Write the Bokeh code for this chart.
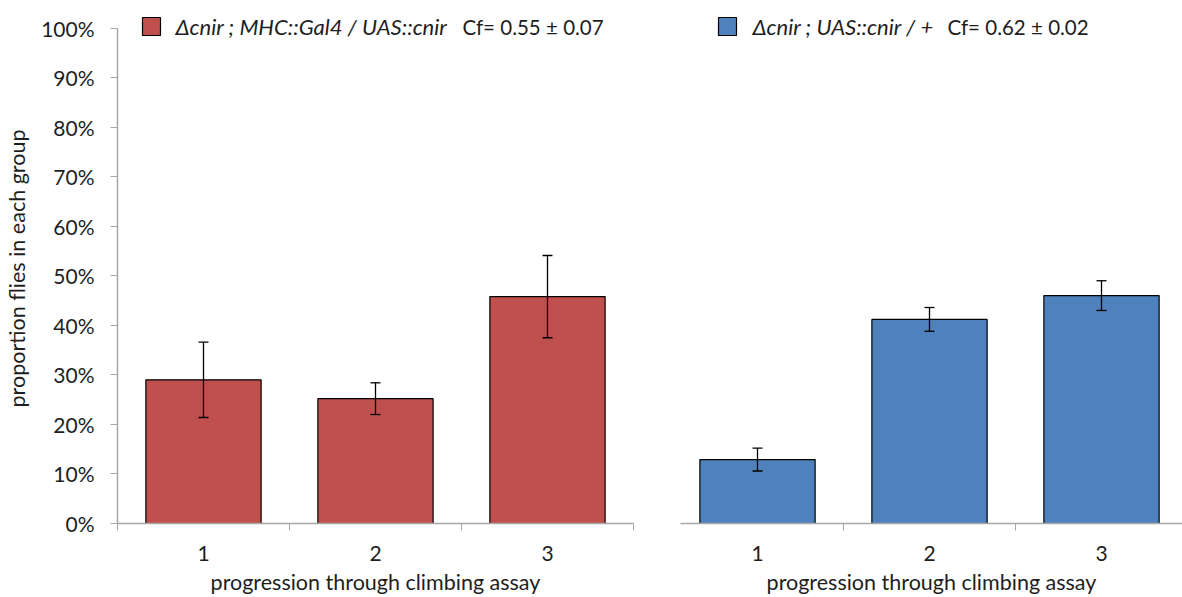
from bokeh.plotting import figure
from bokeh.layouts import row
from bokeh.models import (ColumnDataSource, FixedTicker, PrintfTickFormatter,
                          Whisker, TeeHead, Range1d)
from bokeh.core.properties import value
from bokeh.embed import file_html
from bokeh.resources import INLINE

# --- data -------------------------------------------------------------
stages = [1, 2, 3]
stage_labels = ["1", "2", "3"]

rescue_mean = [29.0, 25.2, 45.8]   # % flies, MHC::Gal4 / UAS::cnir
rescue_err = [7.6, 3.2, 8.3]

control_mean = [12.9, 41.2, 46.0]  # % flies, UAS::cnir / +
control_err = [2.3, 2.4, 3.0]

rescue_name = "Δcnir ; MHC::Gal4 / UAS::cnir"
rescue_cf = "Cf= 0.55 ± 0.07"
control_name = "Δcnir ; UAS::cnir / +"
control_cf = "Cf= 0.62 ± 0.02"

y_ticks = list(range(0, 101, 10))
x_label = "progression through climbing assay"
y_label = "proportion flies in each group"

# --- style ------------------------------------------------------------
FONT = "Lato"
AXIS_GREY = "#a6a6a6"
TEXT = "#1e1e1e"
RED = "#C0504D"
BLUE = "#4F81BD"

H = 597
TOP = 13
BOTTOM = 74
PX_PER_PCT = 4.954
Y_END = (H - BOTTOM - TOP) / PX_PER_PCT
PX_PER_CAT = 172.0


def make_panel(mean, err, color, name, cf, width, left, right, x_start,
               show_y, sq_px, name_px, cf_px):
    frame_left = left
    frame_w = width - left - right
    x_end = x_start + frame_w / PX_PER_CAT
    p = figure(width=width, height=H, output_backend="svg",
               toolbar_location=None, x_range=Range1d(x_start, x_end),
               y_range=Range1d(0, Y_END), min_border_left=left,
               min_border_right=right, min_border_top=TOP,
               min_border_bottom=BOTTOM)
    p.outline_line_color = None
    p.xgrid.visible = False
    p.ygrid.visible = False
    p.background_fill_color = "white"
    p.border_fill_color = "white"

    def px_to_x(px):
        return x_start + (px - frame_left) / PX_PER_CAT

    def py_to_y(py):
        return (H - BOTTOM - py) / PX_PER_PCT

    src = ColumnDataSource(dict(x=stages, top=mean,
                                upper=[m + e for m, e in zip(mean, err)],
                                lower=[m - e for m, e in zip(mean, err)]))
    p.vbar(x="x", top="top", width=0.67, bottom=0, source=src,
           fill_color=color, line_color="black", line_width=1.2)
    w = Whisker(base="x", upper="upper", lower="lower", source=src,
                line_color="black", line_width=1.3, level="overlay",
                upper_head=TeeHead(size=10, line_color="black", line_width=1.3),
                lower_head=TeeHead(size=10, line_color="black", line_width=1.3))
    p.add_layout(w)

    # x axis: labels at category centres, tick marks at boundaries
    xa = p.xaxis[0]
    xa.ticker = FixedTicker(ticks=stages, minor_ticks=[0.5, 1.5, 2.5, 3.5])
    xa.major_label_overrides = {s: l for s, l in zip(stages, stage_labels)}
    xa.major_tick_out = 0
    xa.major_tick_in = 0
    xa.minor_tick_out = 7
    xa.minor_tick_in = 0
    xa.minor_tick_line_color = AXIS_GREY
    xa.axis_line_color = AXIS_GREY
    xa.axis_line_width = 1.5
    xa.major_label_text_font = FONT
    xa.major_label_text_font_size = "21px"
    xa.major_label_text_color = TEXT
    xa.major_label_standoff = 15
    xa.axis_label = x_label
    xa.axis_label_text_font = FONT
    xa.axis_label_text_font_size = "21.5px"
    xa.axis_label_text_font_style = "normal"
    xa.axis_label_text_color = TEXT
    xa.axis_label_standoff = 5

    ya = p.yaxis[0]
    if show_y:
        ya.ticker = FixedTicker(ticks=y_ticks, minor_ticks=[])
        ya.formatter = PrintfTickFormatter(format="%d%%")
        ya.bounds = (0, 100)
        ya.major_tick_out = 7
        ya.major_tick_in = 0
        ya.major_tick_line_color = AXIS_GREY
        ya.axis_line_color = AXIS_GREY
        ya.axis_line_width = 1.5
        ya.major_label_text_font = FONT
        ya.major_label_text_font_size = "21px"
        ya.major_label_text_color = TEXT
        ya.major_label_standoff = 16
        ya.axis_label = y_label
        ya.axis_label_text_font = FONT
        ya.axis_label_text_font_size = "21.5px"
        ya.axis_label_text_font_style = "normal"
        ya.axis_label_text_color = TEXT
        ya.axis_label_standoff = 8
    else:
        ya.visible = False

    ly = py_to_y(26)
    p.rect(x=[px_to_x(sq_px)], y=[ly], width=18, height=18,
           width_units="screen", height_units="screen",
           fill_color=color, line_color="black", line_width=1.2)
    p.text(x=[px_to_x(name_px)], y=[ly], text=[name],
           text_font=value(FONT), text_font_size="22px",
           text_font_style="italic", text_baseline="middle",
           text_align="left", text_color=TEXT)
    p.text(x=[px_to_x(cf_px)], y=[ly], text=[cf],
           text_font=value(FONT), text_font_size="20.5px",
           text_baseline="middle", text_align="left", text_color=TEXT)
    return p


left = make_panel(rescue_mean, rescue_err, RED, rescue_name, rescue_cf,
                  width=650, left=117, right=17, x_start=0.5, show_y=True,
                  sq_px=151, name_px=175, cf_px=462)
# right panel canvas starts at page px 650, its frame at page px 680
right = make_panel(control_mean, control_err, BLUE, control_name, control_cf,
                   width=532, left=30, right=0,
                   x_start=1.5 - (843 - 680) / PX_PER_CAT, show_y=False,
                   sq_px=727 - 650, name_px=752 - 650, cf_px=947 - 650)

layout = row(left, right, spacing=0)

with open("out.html", "w") as f:
    f.write(file_html(layout, INLINE))
